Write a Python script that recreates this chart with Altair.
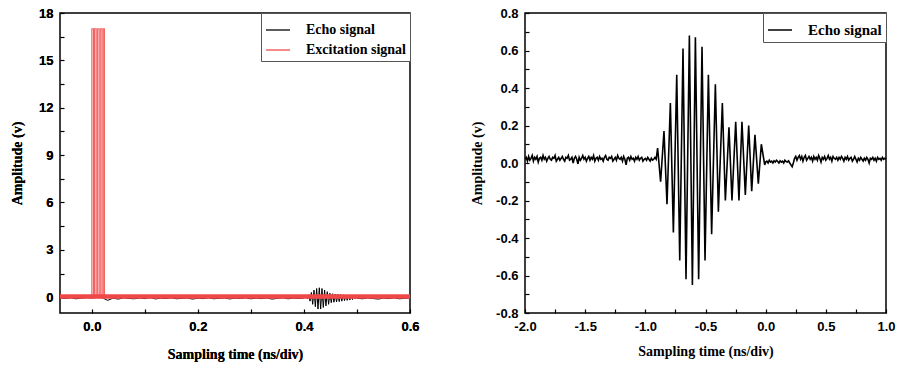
import altair as alt
import numpy as np
import pandas as pd

# ---------------- Left panel data ----------------
left_echo_noise_before = [
    -0.05, -0.08, -0.04, -0.1, -0.06, -0.03, -0.05, -0.02, -0.04, -0.2,
    -0.06, -0.12, -0.04, -0.08, -0.1, -0.05, -0.09, -0.03, -0.11, -0.06,
    -0.08, -0.04, -0.1, -0.07, -0.05, -0.12, -0.06, -0.09, -0.04, -0.1,
    -0.07, -0.05, -0.11, -0.06, -0.08, -0.04, -0.1, -0.06, -0.09, -0.05,
    -0.12, -0.07, -0.04, -0.1, -0.06, -0.08, -0.05]
left_echo_burst_t = [
    0.404, 0.4065, 0.409, 0.4115, 0.414, 0.4165, 0.419, 0.4215, 0.424, 0.4265,
    0.429, 0.4315, 0.434, 0.4365, 0.439, 0.4415, 0.444, 0.4465, 0.449, 0.4515,
    0.454, 0.4565, 0.459, 0.4615, 0.464, 0.4665, 0.469, 0.4715, 0.474, 0.4765,
    0.479, 0.4815, 0.484, 0.4865, 0.489, 0.4915, 0.494, 0.4965, 0.499]
left_echo_burst_v = [
    0.05, -0.1, 0.15, -0.25, 0.3, -0.45, 0.45, -0.6, 0.55, -0.75,
    0.6, -0.75, 0.55, -0.65, 0.45, -0.55, 0.35, -0.45, 0.25, -0.35,
    0.22, -0.32, 0.2, -0.3, 0.2, -0.28, 0.18, -0.25, 0.15, -0.22,
    0.12, -0.2, 0.1, -0.18, 0.08, -0.15, 0.05, -0.1, 0.02]
left_echo_noise_after = [-0.06, -0.1, -0.05, -0.08, -0.12, -0.06, -0.09, -0.04, -0.1, -0.07, -0.05]

excitation_t = [-0.06, 0.0, 0.0, 0.003, 0.003, 0.005, 0.005, 0.008, 0.008, 0.0105,
                0.0105, 0.0135, 0.0135, 0.016, 0.016, 0.019, 0.019, 0.0215, 0.0215,
                0.0238, 0.0238, 0.6]
excitation_v = [0.05, 0.05, 17, 17, 0.05, 0.05, 17, 17, 0.05, 0.05,
                17, 17, 0.05, 0.05, 17, 17, 0.05, 0.05, 17,
                17, 0.05, 0.05]

left_x_labels = [0.0, 0.2, 0.4, 0.6]
left_x_ticks = [0.0, 0.1, 0.2, 0.3, 0.4, 0.5, 0.6]
left_y_labels = [0, 3, 6, 9, 12, 15, 18]
left_y_ticks = [0, 1.5, 3, 4.5, 6, 7.5, 9, 10.5, 12, 13.5, 15, 16.5, 18]

# ---------------- Right panel data ----------------
right_noise_before = [
    0.02, 0.03, 0.01, 0.035, 0.015, 0.025, 0.04, 0.01, 0.03, 0.02,
    0.035, 0.005, 0.025, 0.03, 0.015, 0.04, 0.02, 0.03, 0.01, 0.025,
    0.035, 0.02, 0.015, 0.03, 0.025, 0.04, 0.01, 0.02, 0.03, 0.015,
    0.025, 0.035, 0.02, 0.01, 0.03, 0.025, 0.04, 0.015, 0.02, 0.03,
    0.0, 0.025, 0.035, 0.02, -0.005, 0.03, 0.015, 0.025, 0.04, 0.02,
    0.03, 0.01, 0.025, 0.035, 0.015, 0.03, 0.02, 0.04, 0.01, 0.025,
    0.03, 0.015, 0.035, 0.02, 0.025, 0.01, 0.03, 0.04, 0.02, 0.015,
    0.03, 0.025, 0.035, 0.01, 0.02, 0.03, 0.015, 0.04, 0.025, 0.02,
    0.03, 0.01, 0.035, 0.02, -0.01, 0.025, 0.03, 0.015, 0.035, 0.02,
    0.025, 0.01, 0.03, 0.02, 0.035, 0.015, 0.025, 0.03, 0.01, 0.02,
    0.025, 0.015, 0.03, 0.02, 0.01, 0.025, 0.015, 0.02, 0.03, 0.02]
right_burst_t = [
    -0.898, -0.873, -0.845, -0.820, -0.792, -0.767, -0.739, -0.714, -0.687, -0.662,
    -0.634, -0.609, -0.584, -0.557, -0.529, -0.504, -0.476, -0.449, -0.418, -0.393,
    -0.360, -0.335, -0.305, -0.280, -0.249, -0.222, -0.197, -0.169, -0.141, -0.116,
    -0.089, -0.061, -0.036, -0.008]
right_burst_v = [
    0.08, -0.10, 0.17, -0.22, 0.32, -0.37, 0.47, -0.52, 0.61, -0.62,
    0.68, -0.65, 0.67, -0.62, 0.62, -0.52, 0.47, -0.38, 0.42, -0.26,
    0.32, -0.20, 0.19, -0.20, 0.22, -0.20, 0.22, -0.17, 0.20, -0.15,
    0.15, -0.11, 0.10, -0.01]
right_noise_after = [
    0.005, 0.01, 0.0, 0.015, 0.005, 0.01, 0.0, 0.012, 0.005, 0.015,
    0.008, 0.0, 0.012, 0.005, 0.01, 0.0, 0.015, 0.008, 0.005, 0.012,
    0.0, -0.01, -0.02, 0.0, 0.025, 0.035, 0.015, 0.03, 0.04, 0.02,
    0.035, 0.01, 0.03, 0.04, 0.015, 0.025, 0.035, 0.02, 0.03, 0.01,
    0.035, 0.02, 0.03, 0.015, 0.04, 0.025, 0.005, 0.03, 0.02, 0.035,
    0.015, 0.025, 0.04, 0.02, 0.03, 0.01, 0.035, 0.025, 0.02, 0.03,
    0.015, 0.03, 0.02, 0.035, 0.025, 0.01, 0.03, 0.02, 0.035, 0.015,
    0.025, 0.03, 0.01, 0.02, 0.035, 0.02, 0.005, 0.025, 0.015, 0.03,
    0.02, 0.01, 0.025, 0.015, 0.03, 0.02, 0.0, 0.025, 0.02, 0.03,
    0.015, 0.025, 0.01, 0.03, 0.02, 0.025, 0.015, 0.03, 0.02, 0.025,
    0.02]

right_x_labels = [-2.0, -1.5, -1.0, -0.5, 0.0, 0.5, 1.0]
right_x_ticks = [-2.0, -1.75, -1.5, -1.25, -1.0, -0.75, -0.5, -0.25, 0.0, 0.25, 0.5, 0.75, 1.0]
right_y_labels = [-0.8, -0.6, -0.4, -0.2, 0.0, 0.2, 0.4, 0.6, 0.8]
right_y_ticks = [-0.8, -0.7, -0.6, -0.5, -0.4, -0.3, -0.2, -0.1, 0.0, 0.1, 0.2, 0.3, 0.4, 0.5, 0.6, 0.7, 0.8]

ECHO = "Echo signal"
EXC = "Excitation signal"

# ---------------- Build tables ----------------
lb_t = np.round(np.arange(len(left_echo_noise_before)) * 0.01 - 0.06, 4)
la_t = np.round(np.arange(len(left_echo_noise_after)) * 0.01 + 0.50, 4)
left_echo = pd.DataFrame({
    "t": list(lb_t) + left_echo_burst_t + list(la_t),
    "v": left_echo_noise_before + left_echo_burst_v + left_echo_noise_after,
})
left_echo["i"] = range(len(left_echo))
left_echo["series"] = ECHO

left_exc = pd.DataFrame({"t": excitation_t, "v": excitation_v})
left_exc["i"] = range(len(left_exc))
left_exc["series"] = EXC

rb_t = np.round(np.arange(len(right_noise_before)) * 0.01 - 2.0, 4)
ra_t = np.round(np.arange(len(right_noise_after)) * 0.01 + 0.0, 4)
right_echo = pd.DataFrame({
    "t": list(rb_t) + right_burst_t + list(ra_t),
    "v": right_noise_before + right_burst_v + right_noise_after,
})
right_echo["i"] = range(len(right_echo))
right_echo["series"] = ECHO

X_TITLE = "Sampling time (ns/div)"
Y_TITLE = "Amplitude (v)"
HYPHEN = "replace(datum.label, '\u2212', '-')"


def legend(fs):
    return alt.Legend(orient="top-right", offset=0, title=None, symbolType="stroke",
                      symbolSize=576, symbolStrokeWidth=1.5, labelFont="Liberation Serif",
                      labelFontSize=fs, labelFontWeight="bold", labelColor="black",
                      strokeColor="#555555", fillColor="white", padding=4,
                      rowPadding=-1, labelOffset=15)


def panel(layers_main, layer_ticks, W, H, xdom, ydom, xlab, xt, ylab, yt, ytp, xtp):
    xs = alt.Scale(domain=xdom, nice=False, zero=False)
    ys = alt.Scale(domain=ydom, nice=False, zero=False)
    x_main = alt.X("t:Q", scale=xs, axis=alt.Axis(
        orient="bottom", values=xlab, format=".1f", labelExpr=HYPHEN, ticks=False,
        labelPadding=7, title=X_TITLE, titlePadding=xtp, grid=False, domain=False,
        labelFlush=False))
    y_main = alt.Y("v:Q", scale=ys, axis=alt.Axis(
        orient="left", values=ylab, labelExpr=HYPHEN, ticks=False, labelPadding=7,
        title=Y_TITLE, titlePadding=ytp, grid=False, domain=False, labelFlush=False))
    x_tick = alt.X("t:Q", scale=xs, axis=alt.Axis(
        orient="top", offset=-H, values=xt, labels=False, ticks=True, tickSize=4,
        title=None, grid=False, domain=False))
    y_tick = alt.Y("v:Q", scale=ys, axis=alt.Axis(
        orient="right", offset=-W, values=yt, labels=False, ticks=True, tickSize=4,
        title=None, grid=False, domain=False))
    charts = [f(x_main, y_main) for f in layers_main] + [layer_ticks(x_tick, y_tick)]
    return alt.layer(*charts).resolve_axis(x="independent", y="independent").properties(
        width=W, height=H)


left_color = alt.Color("series:N", scale=alt.Scale(domain=[ECHO, EXC], range=["black", "#f04848"]),
                       legend=legend(14))
right_color = alt.Color("series:N", scale=alt.Scale(domain=[ECHO], range=["black"]),
                        legend=legend(15))

left = panel(
    [
        lambda x, y: alt.Chart(left_echo).mark_line(strokeWidth=1, clip=True).encode(
            x=x, y=y, order="i:Q", color=left_color),
        lambda x, y: alt.Chart(left_exc).transform_filter("datum.v < 1").mark_line(
            strokeWidth=4.5, clip=True).encode(x=x, y=y, order="i:Q", color=left_color),
    ],
    lambda x, y: alt.Chart(left_exc).mark_line(strokeWidth=1.1, clip=True, opacity=0.85).encode(
        x=x, y=y, order="i:Q", color=left_color),
    350, 300, [-0.06, 0.6], [-1, 18], left_x_labels, left_x_ticks, left_y_labels, left_y_ticks,
    14, 14)

right = panel(
    [
        lambda x, y: alt.Chart(right_echo).mark_line(strokeWidth=1.6, clip=True).encode(
            x=x, y=y, order="i:Q", color=right_color),
    ],
    lambda x, y: alt.Chart(right_echo).mark_line(strokeWidth=1.6, clip=True, opacity=0).encode(
        x=x, y=y, order="i:Q", color=right_color),
    361, 300, [-2.0, 1.0], [-0.8, 0.8], right_x_labels, right_x_ticks, right_y_labels, right_y_ticks,
    11, 11)

chart = alt.hconcat(left, right, spacing=49).resolve_scale(
    color="independent", x="independent", y="independent").resolve_legend(
    color="independent").properties(
    padding={"left": 9, "top": 6, "right": 0, "bottom": 0}, background="white"
).configure_view(stroke="black", strokeWidth=1.5).configure_axis(
    labelFont="Liberation Sans", labelFontWeight="bold", labelFontSize=13, labelColor="black",
    titleFont="Liberation Serif", titleFontWeight="bold", titleFontSize=14, titleColor="black",
    tickColor="black", tickWidth=1.2)

chart.save("out.html", embed_options={"renderer": "svg", "actions": False})
